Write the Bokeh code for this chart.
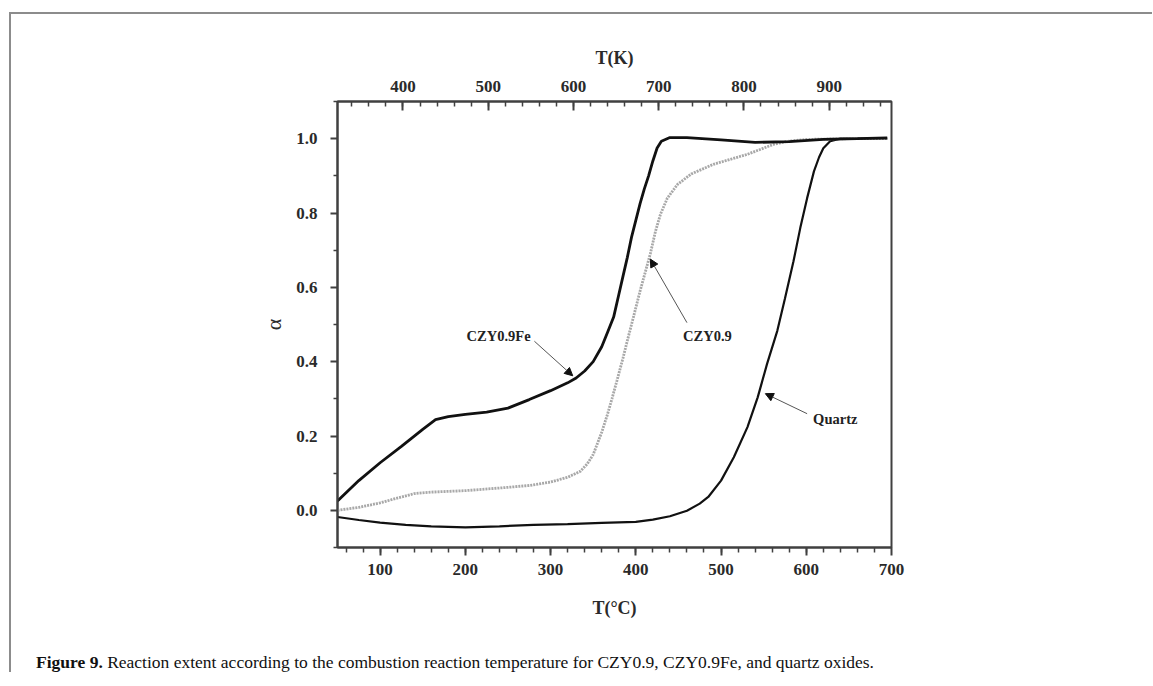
from bokeh.plotting import figure
from bokeh.models import (LinearAxis, Range1d, Label, Arrow, NormalHead,
                          FixedTicker, NumeralTickFormatter, Div)
from bokeh.layouts import column
from bokeh.embed import file_html
from bokeh.resources import INLINE

# CZY0.9Fe
fe_T = [50, 75, 100, 125, 150, 165, 180, 200, 225, 250, 275, 300, 320, 330, 340,
        350, 360, 367, 374, 380, 385, 390, 395, 400, 405, 410, 415, 420, 425, 430,
        440, 460, 500, 540, 580, 620, 660, 695]
fe_a = [0.025, 0.08, 0.128, 0.172, 0.218, 0.244, 0.252, 0.258, 0.264, 0.275, 0.298,
        0.322, 0.343, 0.356, 0.375, 0.40, 0.44, 0.48, 0.52, 0.58, 0.63, 0.68, 0.735,
        0.78, 0.825, 0.865, 0.90, 0.94, 0.975, 0.993, 1.003, 1.003, 0.997, 0.99,
        0.992, 0.998, 1.0, 1.002]

# CZY0.9
czy_T = [50, 75, 100, 120, 140, 160, 180, 200, 240, 276, 300, 320, 335, 343, 350,
         355, 360, 367, 372, 378, 385, 390, 397, 405, 411, 417, 423, 429, 437, 449,
         465, 491, 531, 562, 578, 600, 650, 695]
czy_a = [0.0, 0.008, 0.02, 0.033, 0.045, 0.049, 0.051, 0.053, 0.06, 0.067, 0.076,
         0.089, 0.105, 0.125, 0.15, 0.18, 0.21, 0.26, 0.30, 0.35, 0.41, 0.456, 0.518,
         0.59, 0.64, 0.69, 0.75, 0.797, 0.84, 0.877, 0.905, 0.931, 0.958, 0.985,
         0.993, 0.998, 1.0, 1.0]

# Quartz
qz_T = [50, 75, 100, 130, 160, 200, 240, 280, 320, 360, 400, 420, 440, 460, 475,
        485, 500, 515, 531, 543, 554, 566, 575, 585, 593, 601, 609, 615, 620, 628,
        640, 695]
qz_a = [-0.018, -0.026, -0.033, -0.039, -0.043, -0.046, -0.043, -0.039, -0.037,
        -0.034, -0.031, -0.025, -0.016, -0.001, 0.018, 0.036, 0.08, 0.143, 0.224,
        0.304, 0.394, 0.483, 0.57, 0.67, 0.76, 0.84, 0.912, 0.95, 0.974, 0.993,
        1.0, 1.0]

x_ticks = [100, 200, 300, 400, 500, 600, 700]
y_ticks = [0.0, 0.2, 0.4, 0.6, 0.8, 1.0]
k_ticks = [400, 500, 600, 700, 800, 900]
x_min, x_max = 50, 700
y_min, y_max = -0.1, 1.1
K_OFFSET = 273.15

SERIF = "Liberation Serif"
AX = "#404040"
TXT = "#2a2a2a"

p = figure(frame_width=554, frame_height=446, width=1130, height=608,
           x_range=Range1d(x_min, x_max), y_range=Range1d(y_min, y_max),
           output_backend="svg", toolbar_location=None,
           min_border_left=326, min_border_right=250,
           min_border_top=87, min_border_bottom=75,
           x_axis_label="T(°C)", y_axis_label="α")
p.grid.visible = False
p.outline_line_color = AX
p.outline_line_width = 2
p.background_fill_color = "white"
p.border_fill_color = "white"

bottom = p.xaxis[0]
left = p.yaxis[0]

p.extra_x_ranges = {"K": Range1d(x_min + K_OFFSET, x_max + K_OFFSET)}
top = LinearAxis(x_range_name="K", axis_label="T(K)")
p.add_layout(top, "above")

for ax in [bottom, left, top]:
    ax.axis_line_color = AX
    ax.axis_line_width = 2
    ax.major_tick_line_color = AX
    ax.minor_tick_line_color = AX
    ax.major_tick_line_width = 2
    ax.minor_tick_line_width = 1.5
    ax.major_label_text_font = SERIF
    ax.major_label_text_font_style = "bold"
    ax.major_label_text_font_size = "17px"
    ax.major_label_text_color = TXT
    ax.axis_label_text_font = SERIF
    ax.axis_label_text_font_style = "bold"
    ax.axis_label_text_font_size = "18px"
    ax.axis_label_text_color = TXT

bottom.ticker = FixedTicker(ticks=x_ticks, minor_ticks=list(range(60, 700, 20)))
bottom.major_tick_in = 0
bottom.major_tick_out = 8
bottom.minor_tick_in = 0
bottom.minor_tick_out = 5
bottom.major_label_standoff = 8
bottom.axis_label_standoff = 20

left.ticker = FixedTicker(ticks=y_ticks, minor_ticks=[-0.1, 0.1, 0.3, 0.5, 0.7, 0.9, 1.1])
left.formatter = NumeralTickFormatter(format="0.0")
left.major_tick_in = 0
left.major_tick_out = 7
left.minor_tick_in = 0
left.minor_tick_out = 4
left.major_label_standoff = 13
left.axis_label_text_font_style = "normal"
left.axis_label_text_font_size = "22px"
left.axis_label_standoff = 7

top.ticker = FixedTicker(ticks=k_ticks, minor_ticks=list(range(340, 980, 20)))
top.major_tick_in = 9
top.major_tick_out = 0
top.minor_tick_in = 5
top.minor_tick_out = 0
top.major_label_standoff = 10
top.axis_label_standoff = 10

p.line(qz_T, qz_a, line_color="#111111", line_width=2.2)
p.line(czy_T, czy_a, line_color="#a8a8a8", line_width=2.8, line_dash="2 1")
p.line(fe_T, fe_a, line_color="#111111", line_width=2.8)

lab_font = dict(text_font=SERIF, text_font_style="bold", text_font_size="14.5px",
                text_color="#222222", text_align="center", text_baseline="middle")
p.add_layout(Label(x=239, y=0.47, text="CZY0.9Fe", **lab_font))
p.add_layout(Label(x=484, y=0.47, text="CZY0.9", **lab_font))
p.add_layout(Label(x=634, y=0.247, text="Quartz", **lab_font))

for xs, ys, xe, ye in [(281, 0.455, 326, 0.362), (460, 0.505, 417, 0.676),
                       (601, 0.26, 552, 0.314)]:
    p.add_layout(Arrow(x_start=xs, y_start=ys, x_end=xe, y_end=ye,
                       line_color="#555555", line_width=1,
                       end=NormalHead(size=8, fill_color="#111111",
                                      line_color="#111111")))

caption = Div(text="<b>Figure 9.</b> Reaction extent according to the combustion "
                   "reaction temperature for CZY0.9, CZY0.9Fe, and quartz oxides.",
              width=1116, height=22, margin=(28, 0, 0, 25),
              styles={"font-family": "'Liberation Serif', serif", "font-size": "17.5px",
                      "color": "#111111", "white-space": "nowrap"})

page = column(p, caption, margin=(12, 0, 0, 9),
              styles={"border-top": "2px solid #8c8c8c",
                      "border-left": "2px solid #8c8c8c"})

open("out.html", "w").write(file_html(page, INLINE))
